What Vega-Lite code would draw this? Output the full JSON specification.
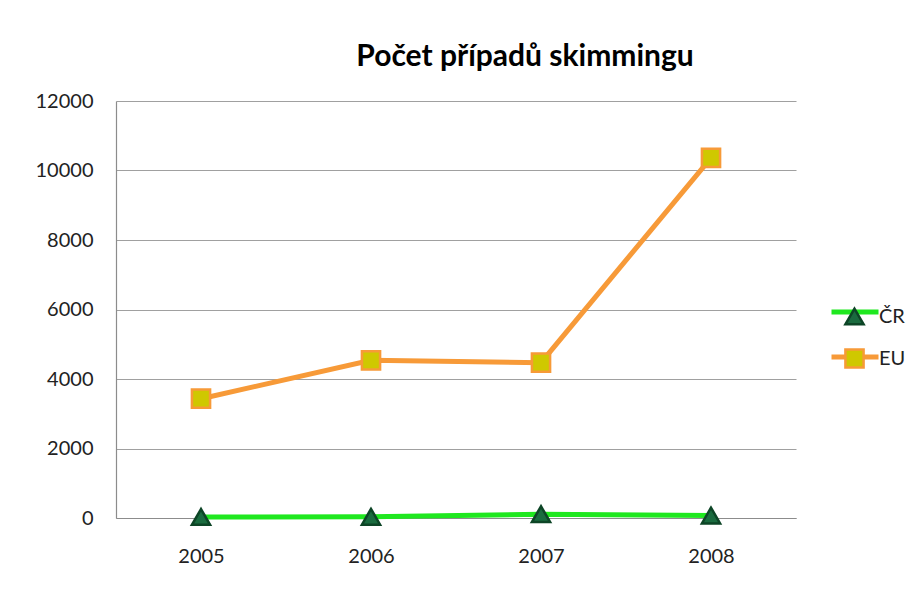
{
  "$schema": "https://vega.github.io/schema/vega-lite/v6.json",
  "autosize": "none",
  "width": 680,
  "height": 417,
  "padding": {"left": 116, "top": 101, "right": 124, "bottom": 71},
  "background": "white",
  "config": {
    "font": "Lato",
    "view": {"stroke": null},
    "axis": {"labelFont": "Lato", "labelFontSize": 20, "labelColor": "#222222", "ticks": false, "domainColor": "#8c8c8c", "domainWidth": 1.2, "title": null},
    "legend": {"labelFont": "Lato", "labelFontSize": 20, "labelColor": "#222222"}
  },
  "title": {"text": "Počet případů skimmingu", "font": "Lato", "fontSize": 30, "fontWeight": "bold", "color": "#000000", "anchor": "middle", "dx": 69, "offset": 19},
  "data": {"values": [
    {"year": "2005", "series": "ČR", "value": 30},
    {"year": "2006", "series": "ČR", "value": 35},
    {"year": "2007", "series": "ČR", "value": 110},
    {"year": "2008", "series": "ČR", "value": 70},
    {"year": "2005", "series": "EU", "value": 3433},
    {"year": "2006", "series": "EU", "value": 4538},
    {"year": "2007", "series": "EU", "value": 4471},
    {"year": "2008", "series": "EU", "value": 10365}
  ]},
  "encoding": {
    "x": {"field": "year", "type": "ordinal", "scale": {"type": "point", "padding": 0.5}, "axis": {"labelAngle": 0, "labelPadding": 28, "grid": false}},
    "y": {"field": "value", "type": "quantitative", "scale": {"domain": [0, 12000]}, "axis": {"values": [0, 2000, 4000, 6000, 8000, 10000, 12000], "format": "d", "labelPadding": 23, "grid": true, "gridColor": "#a0a0a0", "gridWidth": 1.2}}
  },
  "layer": [
    {
      "mark": {"type": "line", "strokeWidth": 5},
      "encoding": {
        "color": {"field": "series", "type": "nominal", "scale": {"domain": ["ČR", "EU"], "range": ["#1fe81f", "#f79a38"]},
          "legend": {"title": null, "orient": "none", "legendX": 713, "legendY": 185, "symbolType": "stroke", "symbolSize": 2209, "symbolStrokeWidth": 5, "labelOffset": 4, "labelExpr": "''", "rowPadding": 9, "zindex": 0}}
      }
    },
    {
      "mark": {"type": "point", "filled": true, "size": 330, "strokeWidth": 2.5, "opacity": 1},
      "encoding": {
        "shape": {"field": "series", "type": "nominal", "sort": "descending", "scale": {"range": ["triangle-up", "square"]},
          "legend": {"title": null, "orient": "none", "legendX": 728, "legendY": 205, "symbolSize": 330, "symbolStrokeWidth": 2.5, "labelOffset": 14, "rowPadding": 14, "zindex": 1}},
        "fill": {"field": "series", "type": "nominal", "sort": "descending", "scale": {"range": ["#1a6b3f", "#cfc800"]},
          "legend": {"title": null, "orient": "none", "legendX": 728, "legendY": 205, "symbolSize": 330, "symbolStrokeWidth": 2.5, "labelOffset": 14, "rowPadding": 14, "zindex": 1}},
        "stroke": {"field": "series", "type": "nominal", "sort": "descending", "scale": {"range": ["#0d4526", "#f79a38"]},
          "legend": {"title": null, "orient": "none", "legendX": 728, "legendY": 205, "symbolSize": 330, "symbolStrokeWidth": 2.5, "labelOffset": 14, "rowPadding": 14, "zindex": 1}}
      }
    }
  ]
}
